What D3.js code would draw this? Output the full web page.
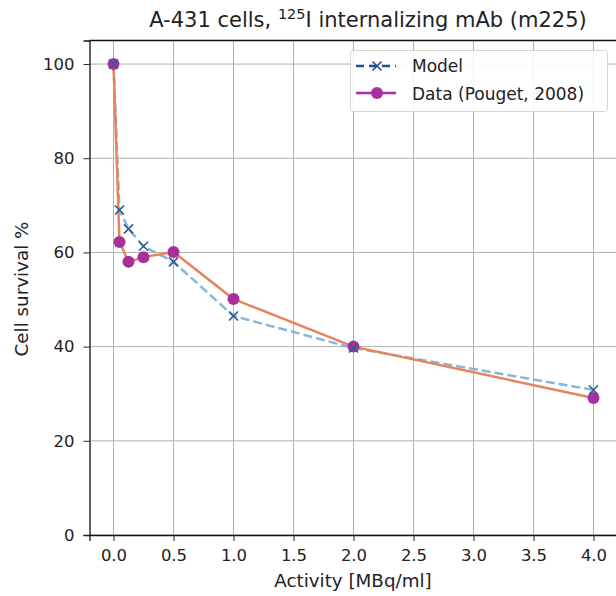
<!DOCTYPE html>
<html><head><meta charset="utf-8">
<script src="https://cdn.jsdelivr.net/npm/d3@7"></script>
<style>body{margin:0;background:#fff;} svg{display:block;font-family:"DejaVu Sans",sans-serif;}</style>
</head><body>
<script>
const modelX = [0, 0.05, 0.125, 0.25, 0.5, 1, 2, 4];
const modelY = [100, 69, 65, 61.3, 58, 46.5, 39.7, 30.8];
const dataX = [0, 0.05, 0.125, 0.25, 0.5, 1, 2, 4];
const dataY = [100, 62.2, 58, 59, 60.1, 50.1, 40, 29.1];
const xTicks = [0, 0.5, 1, 1.5, 2, 2.5, 3, 3.5, 4];
const yTicks = [0, 20, 40, 60, 80, 100];

const W = 616, H = 596;
const svg = d3.select("body").append("svg").attr("width", W).attr("height", H);
const x = d3.scaleLinear().domain([-0.2, 4.2]).range([89.5, 617.5]);
const y = d3.scaleLinear().domain([0, 105]).range([535, 40.5]);

// grid
svg.append("g").selectAll("line").data(xTicks).join("line")
  .attr("x1", d => x(d)).attr("x2", d => x(d)).attr("y1", y(0)).attr("y2", y(105))
  .attr("stroke", "#b0b0b0").attr("stroke-width", 1);
svg.append("g").selectAll("line").data(yTicks).join("line")
  .attr("x1", x(-0.2)).attr("x2", x(4.2)).attr("y1", d => y(d)).attr("y2", d => y(d))
  .attr("stroke", "#b0b0b0").attr("stroke-width", 1);

// axes
const xAxis = d3.axisBottom(x).tickValues(xTicks).tickFormat(d3.format(".1f")).tickSize(6).tickPadding(8);
const yAxis = d3.axisLeft(y).tickValues(yTicks).tickSize(6).tickPadding(9);
const gx = svg.append("g").attr("transform", `translate(0,${y(0)})`).call(xAxis);
const gy = svg.append("g").attr("transform", `translate(${x(-0.2)},0)`).call(yAxis);
[gx, gy].forEach(g => {
  g.selectAll("text").attr("font-size", 16.5).attr("fill", "#222").attr("font-family", "DejaVu Sans");
  g.selectAll("line").attr("stroke", "#222");
  g.select(".domain").attr("stroke", "#111").attr("stroke-width", 1.3);
});
// top and right spines
svg.append("line").attr("x1", x(-0.2)).attr("x2", x(4.2)).attr("y1", y(105)).attr("y2", y(105)).attr("stroke", "#111").attr("stroke-width", 1.3);
svg.append("line").attr("x1", x(4.2)).attr("x2", x(4.2)).attr("y1", y(105)).attr("y2", y(0)).attr("stroke", "#111").attr("stroke-width", 1.3);

const lineGen = d3.line().x(d => x(d[0])).y(d => y(d[1]));
const model = modelX.map((v, i) => [v, modelY[i]]);
const data = dataX.map((v, i) => [v, dataY[i]]);

// model line
svg.append("path").datum(model).attr("d", lineGen).attr("fill", "none")
  .attr("stroke", "#8ab6d6").attr("stroke-width", 2.5).attr("stroke-dasharray", "9,4");
// data line
svg.append("path").datum(data).attr("d", lineGen).attr("fill", "none")
  .attr("stroke", "#e8845c").attr("stroke-width", 2.5);
// data markers
svg.append("g").selectAll("circle").data(data).join("circle")
  .attr("cx", d => x(d[0])).attr("cy", d => y(d[1])).attr("r", 6).attr("fill", "#a9309c");
// model markers
const xm = (g, cx, cy, s, col) => {
  g.append("path").attr("d", `M${cx-s},${cy-s}L${cx+s},${cy+s}M${cx-s},${cy+s}L${cx+s},${cy-s}`)
   .attr("stroke", col).attr("stroke-width", 1.6).attr("fill", "none");
};
const gm = svg.append("g");
model.forEach(d => xm(gm, x(d[0]), y(d[1]), 4.5, "#2a5d8f"));

// legend
const lg = svg.append("g");
lg.append("rect").attr("x", 350.5).attr("y", 50.5).attr("width", 257).attr("height", 61).attr("rx", 3)
  .attr("fill", "rgba(255,255,255,0.85)").attr("stroke", "#d5d5d5");
lg.append("line").attr("x1", 356).attr("x2", 396).attr("y1", 66).attr("y2", 66)
  .attr("stroke", "#1f4e89").attr("stroke-width", 2.5).attr("stroke-dasharray", "8,5");
xm(lg, 377, 66, 4.5, "#1f4e89");
lg.append("line").attr("x1", 356).attr("x2", 396).attr("y1", 93).attr("y2", 93)
  .attr("stroke", "#a9309c").attr("stroke-width", 2.5);
lg.append("circle").attr("cx", 377).attr("cy", 93).attr("r", 6).attr("fill", "#a9309c");
lg.append("text").attr("x", 412).attr("y", 72).attr("font-size", 17).attr("fill", "#222").text("Model");
lg.append("text").attr("x", 412).attr("y", 99.5).attr("font-size", 17).attr("fill", "#222").text("Data (Pouget, 2008)");

// title
const t = svg.append("text").attr("x", 368).attr("y", 27).attr("text-anchor", "middle")
  .attr("font-size", 21).attr("fill", "#222");
t.append("tspan").text("A-431 cells, ");
t.append("tspan").attr("font-size", 14.5).attr("dy", -8).text("125");
t.append("tspan").attr("dy", 8).text("I internalizing mAb (m225)");

// axis labels
svg.append("text").attr("x", 353).attr("y", 587).attr("text-anchor", "middle")
  .attr("font-size", 18.3).attr("fill", "#222").text("Activity [MBq/ml]");
svg.append("text").attr("transform", "translate(28,289) rotate(-90)").attr("text-anchor", "middle")
  .attr("font-size", 18.3).attr("fill", "#222").text("Cell survival %");
</script>
</body></html>
